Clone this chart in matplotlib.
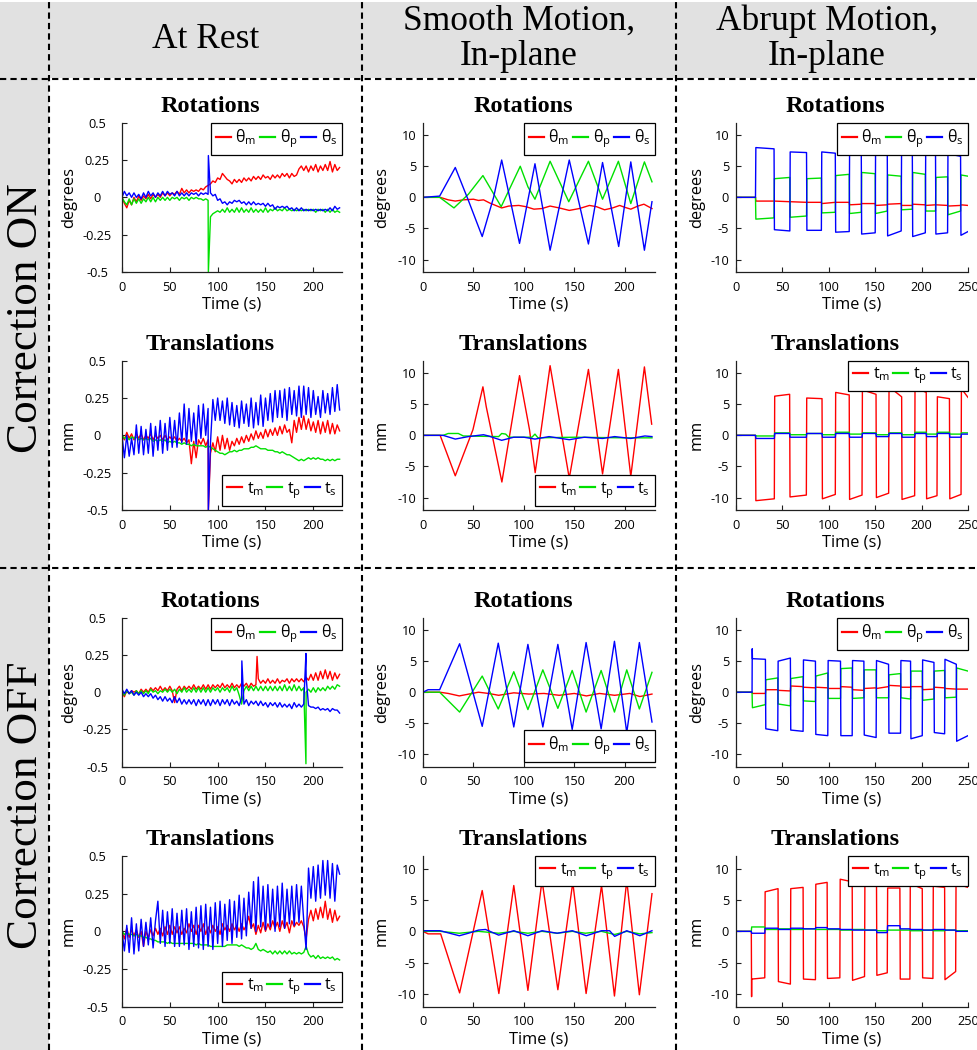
import numpy as np
import matplotlib
matplotlib.use('Agg')
import matplotlib.pyplot as plt
from matplotlib.lines import Line2D
from matplotlib.patches import Rectangle

plt.rcParams['font.family'] = ['Open Sans', 'DejaVu Sans']
plt.rcParams['mathtext.fontset'] = 'custom'
plt.rcParams['mathtext.rm'] = 'Open Sans'
plt.rcParams['axes.unicode_minus'] = False

RED, GREEN, BLUE = '#ff0000', '#00e000', '#0000ff'
SERIF = 'Liberation Serif'

# ---------------- data ----------------
col_titles = [['At Rest'], ['Smooth Motion,', 'In-plane'], ['Abrupt Motion,', 'In-plane']]
row_titles = ['Correction ON', 'Correction OFF']
rot_labels = [r'$\mathrm{θ_m}$', r'$\mathrm{θ_p}$', r'$\mathrm{θ_s}$']
tra_labels = [r'$\mathrm{t_m}$', r'$\mathrm{t_p}$', r'$\mathrm{t_s}$']

# at rest: samples every 2.5 s, 0 .. 227.5 s
t_rest = np.arange(0, 230, 2.5)

on_rot_m = [0.00, -0.04, -0.07, -0.02, -0.05, 0.00, -0.03, 0.01, -0.02, 0.01,
            -0.01, 0.02, -0.01, 0.02, 0.00, 0.02, 0.00, 0.03, 0.01, 0.03,
            0.01, 0.03, 0.02, 0.04, 0.02, 0.06, 0.03, 0.05, 0.03, 0.05,
            0.04, 0.05, 0.04, 0.06, 0.05, 0.07, 0.08, 0.09, 0.11, 0.10,
            0.13, 0.12, 0.16, 0.14, 0.12, 0.11, 0.09, 0.12, 0.10, 0.12,
            0.10, 0.13, 0.11, 0.13, 0.11, 0.14, 0.12, 0.14, 0.12, 0.15,
            0.13, 0.14, 0.12, 0.15, 0.13, 0.15, 0.13, 0.16, 0.14, 0.16,
            0.13, 0.16, 0.14, 0.15, 0.19, 0.21, 0.18, 0.21, 0.17, 0.21,
            0.18, 0.22, 0.17, 0.21, 0.18, 0.22, 0.18, 0.24, 0.17, 0.22,
            0.18, 0.20]
on_rot_p = [0.00, -0.03, -0.05, -0.01, -0.05, -0.01, -0.04, -0.01, -0.04, -0.01,
            -0.03, 0.00, -0.03, 0.00, -0.03, 0.00, -0.02, 0.00, -0.02, 0.00,
            -0.02, 0.00, -0.01, 0.00, -0.02, 0.00, -0.01, 0.00, -0.02, 0.00,
            -0.01, 0.00, -0.01, -0.01, -0.02, -0.01, -0.02, -0.13, -0.11, -0.10,
            -0.09, -0.10, -0.08, -0.10, -0.07, -0.10, -0.08, -0.10, -0.07, -0.10,
            -0.07, -0.10, -0.08, -0.10, -0.07, -0.10, -0.08, -0.10, -0.08, -0.10,
            -0.07, -0.10, -0.08, -0.09, -0.07, -0.09, -0.08, -0.09, -0.07, -0.09,
            -0.08, -0.09, -0.08, -0.09, -0.08, -0.09, -0.08, -0.09, -0.08, -0.09,
            -0.08, -0.10, -0.08, -0.09, -0.08, -0.10, -0.08, -0.10, -0.08, -0.10,
            -0.09, -0.10]
on_rot_s = [0.00, 0.04, 0.01, 0.03, 0.00, 0.03, 0.00, 0.02, -0.01, 0.03,
            0.00, 0.04, 0.01, 0.03, 0.00, 0.03, 0.01, 0.04, 0.01, 0.04,
            0.02, 0.03, 0.01, 0.04, 0.01, 0.03, 0.01, 0.03, 0.01, 0.03,
            0.02, 0.03, 0.01, 0.03, 0.02, 0.03, 0.02, 0.03, 0.01, 0.02,
            -0.02, -0.01, -0.04, -0.03, -0.05, -0.03, -0.04, -0.02, -0.03, -0.02,
            -0.04, -0.03, -0.05, -0.03, -0.05, -0.03, -0.05, -0.04, -0.05, -0.04,
            -0.06, -0.04, -0.06, -0.05, -0.08, -0.06, -0.07, -0.06, -0.07, -0.06,
            -0.08, -0.07, -0.09, -0.07, -0.09, -0.07, -0.09, -0.08, -0.09, -0.08,
            -0.09, -0.08, -0.09, -0.08, -0.09, -0.08, -0.09, -0.07, -0.09, -0.06,
            -0.08, -0.07]

on_tra_m = [0.00, -0.03, 0.02, -0.02, 0.01, -0.03, 0.01, -0.02, 0.01, -0.03,
            0.00, -0.02, 0.01, -0.03, 0.00, -0.02, 0.00, -0.03, 0.00, -0.03,
            -0.01, -0.03, -0.01, -0.04, -0.02, -0.04, -0.02, -0.05, -0.03, -0.19,
            -0.04, -0.15, -0.03, -0.06, -0.02, -0.07, -0.03, -0.12, -0.05, -0.11,
            -0.01, -0.10, 0.00, -0.09, -0.02, -0.10, -0.04, -0.07, -0.02, -0.06,
            -0.01, -0.05, 0.00, -0.04, 0.01, -0.03, 0.03, -0.02, 0.02, -0.02,
            0.04, -0.01, 0.04, 0.00, 0.05, 0.00, 0.06, 0.01, 0.07, 0.02,
            0.04, -0.05, 0.10, 0.02, 0.12, 0.04, 0.13, 0.04, 0.11, 0.03,
            0.09, 0.02, 0.10, 0.01, 0.09, 0.02, 0.10, 0.01, 0.08, 0.01,
            0.07, 0.03]
on_tra_p = [0.00, -0.02, -0.01, -0.03, -0.01, -0.02, -0.01, -0.03, -0.02, -0.03,
            -0.02, -0.03, -0.02, -0.04, -0.03, -0.04, -0.03, -0.04, -0.03, -0.05,
            -0.04, -0.05, -0.04, -0.05, -0.05, -0.06, -0.05, -0.06, -0.06, -0.07,
            -0.06, -0.07, -0.07, -0.07, -0.07, -0.08, -0.07, -0.08, -0.09, -0.10,
            -0.11, -0.12, -0.12, -0.13, -0.12, -0.11, -0.11, -0.10, -0.11, -0.10,
            -0.10, -0.09, -0.09, -0.09, -0.08, -0.08, -0.07, -0.08, -0.09, -0.09,
            -0.09, -0.10, -0.10, -0.10, -0.11, -0.11, -0.12, -0.11, -0.12, -0.13,
            -0.13, -0.14, -0.15, -0.16, -0.17, -0.16, -0.17, -0.16, -0.15, -0.16,
            -0.15, -0.16, -0.15, -0.16, -0.16, -0.17, -0.16, -0.17, -0.16, -0.17,
            -0.16, -0.16]
on_tra_s = [0.00, -0.15, 0.00, -0.14, -0.02, -0.13, 0.07, -0.12, 0.06, -0.13,
            0.04, -0.12, 0.08, -0.14, 0.06, -0.10, 0.10, -0.12, 0.08, -0.10,
            0.12, -0.08, 0.10, -0.08, 0.15, -0.05, 0.21, -0.06, 0.18, -0.04,
            0.15, -0.06, 0.20, -0.02, 0.21, 0.00, 0.18, -0.05, 0.24, 0.10,
            0.25, 0.10, 0.23, 0.08, 0.25, 0.07, 0.22, 0.06, 0.20, 0.05,
            0.23, 0.08, 0.21, 0.06, 0.25, 0.05, 0.22, 0.07, 0.27, 0.06,
            0.25, 0.10, 0.28, 0.09, 0.30, 0.12, 0.30, 0.12, 0.31, 0.10,
            0.32, 0.14, 0.30, 0.13, 0.33, 0.12, 0.33, 0.14, 0.32, 0.12,
            0.30, 0.14, 0.26, 0.12, 0.30, 0.15, 0.28, 0.14, 0.32, 0.16,
            0.34, 0.17]

off_rot_m = [0.00, -0.03, 0.01, -0.01, 0.01, 0.00, 0.01, -0.01, 0.02, 0.00,
             0.02, 0.00, 0.03, 0.01, 0.03, 0.01, 0.04, 0.01, 0.03, 0.01,
             0.04, 0.01, -0.07, 0.02, 0.04, 0.01, 0.04, 0.02, 0.04, 0.02,
             0.05, 0.02, 0.04, 0.02, 0.05, 0.02, 0.05, 0.02, 0.05, 0.03,
             0.05, 0.03, 0.06, 0.03, 0.05, 0.03, 0.06, 0.03, 0.05, 0.03,
             0.06, 0.04, 0.06, 0.03, 0.06, 0.04, 0.05, 0.09, 0.06, 0.08,
             0.06, 0.09, 0.06, 0.08, 0.06, 0.09, 0.06, 0.08, 0.07, 0.09,
             0.06, 0.09, 0.07, 0.09, 0.07, 0.09, 0.07, 0.10, 0.08, 0.12,
             0.08, 0.13, 0.08, 0.14, 0.09, 0.15, 0.09, 0.14, 0.08, 0.13,
             0.09, 0.12]
off_rot_p = [0.00, -0.02, 0.01, -0.01, 0.00, -0.02, 0.01, -0.01, 0.01, -0.01,
             0.01, -0.01, 0.02, 0.00, 0.01, -0.01, 0.01, 0.00, 0.02, 0.00,
             0.02, 0.00, 0.02, -0.01, 0.02, 0.00, 0.03, 0.00, 0.02, 0.00,
             0.03, 0.00, 0.03, 0.00, 0.03, 0.00, 0.03, 0.00, 0.03, 0.01,
             0.03, 0.00, 0.03, 0.01, 0.03, 0.00, 0.04, 0.01, 0.03, -0.02,
             -0.08, 0.01, 0.04, 0.01, 0.04, 0.01, 0.04, 0.01, 0.04, 0.01,
             0.04, 0.01, 0.04, 0.01, 0.04, 0.01, 0.04, 0.01, 0.05, 0.01,
             0.04, 0.01, 0.05, 0.01, 0.04, 0.01, 0.03, 0.00, 0.02, 0.00,
             0.03, 0.00, 0.03, 0.01, 0.03, 0.01, 0.04, 0.02, 0.04, 0.02,
             0.05, 0.04]
off_rot_s = [0.02, -0.01, 0.02, -0.01, 0.01, -0.02, 0.00, -0.02, 0.00, -0.03,
             -0.01, -0.03, -0.01, -0.04, -0.02, -0.05, -0.03, -0.06, -0.03, -0.06,
             -0.04, -0.07, -0.03, -0.07, -0.04, -0.08, -0.05, -0.08, -0.05, -0.08,
             -0.05, -0.09, -0.05, -0.08, -0.05, -0.09, -0.05, -0.09, -0.05, -0.08,
             -0.05, -0.09, -0.05, -0.08, -0.05, -0.09, -0.05, -0.08, -0.06, -0.09,
             -0.04, -0.08, -0.05, -0.09, -0.06, -0.08, -0.06, -0.09, -0.06, -0.09,
             -0.07, -0.10, -0.07, -0.09, -0.07, -0.10, -0.07, -0.10, -0.08, -0.10,
             -0.08, -0.11, -0.07, -0.10, -0.08, -0.10, -0.08, 0.10, -0.09, -0.10,
             -0.10, -0.11, -0.10, -0.12, -0.11, -0.12, -0.11, -0.13, -0.11, -0.12,
             -0.12, -0.14]

off_tra_m = [0.00, -0.05, 0.02, -0.04, 0.01, -0.03, 0.01, -0.04, 0.00, -0.10,
             0.00, -0.04, 0.01, -0.03, 0.02, -0.02, 0.02, -0.03, 0.03, -0.02,
             0.04, -0.02, 0.03, -0.01, 0.03, -0.02, 0.02, -0.01, 0.05, 0.00,
             0.04, -0.02, 0.04, 0.00, 0.05, -0.02, 0.03, -0.01, 0.04, 0.00,
             0.03, -0.02, 0.05, 0.01, 0.04, 0.00, 0.05, 0.01, 0.04, 0.00,
             0.05, 0.01, 0.04, 0.10, 0.02, 0.05, -0.02, 0.04, -0.01, 0.06,
             0.00, 0.05, 0.01, 0.07, 0.02, 0.06, 0.00, 0.07, 0.02, 0.06,
             -0.01, 0.07, 0.03, 0.06, 0.04, 0.07, 0.03, -0.05, 0.08, 0.14,
             0.07, 0.15, 0.08, 0.16, 0.09, 0.20, 0.08, 0.15, 0.06, 0.14,
             0.07, 0.10]
off_tra_p = [0.00, -0.02, -0.01, -0.02, -0.02, -0.03, -0.02, -0.03, -0.03, -0.04,
             -0.04, -0.05, -0.05, -0.06, -0.06, -0.07, -0.07, -0.07, -0.07, -0.08,
             -0.07, -0.08, -0.08, -0.08, -0.08, -0.08, -0.08, -0.08, -0.08, -0.08,
             -0.08, -0.09, -0.08, -0.09, -0.09, -0.09, -0.09, -0.10, -0.10, -0.10,
             -0.10, -0.10, -0.10, -0.10, -0.09, -0.09, -0.09, -0.09, -0.09, -0.10,
             -0.09, -0.10, -0.11, -0.11, -0.12, -0.11, -0.08, -0.12, -0.13, -0.12,
             -0.13, -0.14, -0.13, -0.15, -0.13, -0.15, -0.13, -0.15, -0.13, -0.15,
             -0.13, -0.15, -0.14, -0.15, -0.14, -0.15, -0.14, -0.10, -0.15, -0.17,
             -0.16, -0.18, -0.16, -0.18, -0.17, -0.18, -0.17, -0.18, -0.17, -0.19,
             -0.18, -0.19]
off_tra_s = [0.00, -0.13, 0.04, -0.14, 0.09, -0.15, 0.05, -0.13, 0.08, -0.10,
             0.06, -0.09, 0.09, -0.11, 0.07, 0.20, -0.08, 0.14, -0.10, 0.13,
             -0.08, 0.15, -0.10, 0.12, -0.10, 0.14, -0.09, 0.15, -0.12, 0.13,
             -0.10, 0.16, -0.11, 0.17, -0.12, 0.18, -0.10, 0.16, -0.12, 0.19,
             -0.08, 0.20, -0.10, 0.18, -0.06, 0.21, -0.08, 0.20, -0.04, 0.24,
             -0.05, 0.22, -0.03, 0.26, 0.02, 0.33, 0.00, 0.36, 0.03, 0.30,
             0.01, 0.31, 0.03, 0.28, 0.00, 0.30, 0.03, 0.32, 0.02, 0.28,
             0.05, 0.30, 0.04, 0.31, 0.06, 0.30, 0.07, -0.12, 0.42, 0.22,
             0.43, 0.20, 0.44, 0.22, 0.47, 0.24, 0.47, 0.22, 0.45, 0.20,
             0.44, 0.38]

# single-sample spikes (time s, value)
spikes = {
    'on_rot_p': [(90.3, -0.5)], 'on_rot_s': [(90.3, 0.28)],
    'on_tra_m': [(90.3, -0.5)], 'on_tra_s': [(90.3, -0.5)],
    'off_rot_m': [(141.2, 0.24)], 'off_rot_p': [(192.3, -0.48)],
    'off_rot_s': [(125.3, 0.21), (192.3, 0.26)],
    'ab_off_rot_s': [(17.5, 7.0)], 'ab_off_tra_m': [(16.8, -10.4)],
}

# smooth motion: turning points (time s, value)
sm_on_rot_m_t = [0, 17, 25, 32, 40, 50, 55, 60, 66, 78, 85, 95, 102, 110, 118, 126, 135, 145,
                 155, 165, 172, 180, 188, 195, 200, 206, 213, 219, 227]
sm_on_rot_m = [0, 0, -0.4, -0.6, -0.4, -0.3, -0.5, -0.4, -0.9, -1.7, -1.4, -1.3, -1.5, -1.9,
               -1.8, -1.4, -1.7, -2.1, -1.8, -1.3, -1.5, -2.0, -1.7, -1.3, -1.6, -1.9, -1.4, -1.1, -1.8]
sm_on_rot_p_t = [0, 16.5, 30.7, 45, 59.4, 77.5, 96.4, 104, 111, 126, 144.5, 164, 178, 193.7, 206, 219.5, 227]
sm_on_rot_p = [0, 0, -1.7, 0.5, 3.5, -1.5, 5.0, 1.7, -0.3, 5.8, -0.7, 5.8, -0.3, 5.8, -1.0, 5.7, 2.5]
sm_on_rot_s_t = [0, 16.5, 32, 45, 58.7, 70, 78, 95.7, 111, 126, 145, 164, 178, 194, 206, 219.5, 227]
sm_on_rot_s = [0, 0.2, 4.8, -0.5, -6.3, 0.0, 6.0, -7.4, 5.4, -8.5, 6.0, -7.5, 5.6, -7.9, 5.7, -8.5, -0.7]

sm_on_tra_m_t = [0, 17, 32, 49.5, 59.4, 62.7, 78.2, 95.7, 105.6, 111.2, 126, 145, 164, 178, 193.7,
                 206, 219.5, 226.7]
sm_on_tra_m = [0, 0, -6.5, 0.9, 7.8, 4.6, -7.5, 9.6, 0.9, -6.0, 11.2, -6.9, 10.6, -6.2, 10.6, -6.6, 11.0, 1.8]
sm_on_tra_p_t = [0, 20, 25, 35, 40, 75, 78, 82, 85, 108, 111, 114, 150, 200, 227]
sm_on_tra_p = [0, 0, 0.3, 0.3, -0.1, -0.2, 0.3, 0.2, -0.3, -0.3, 0.2, -0.4, -0.3, -0.4, -0.4]
sm_on_tra_s_t = [0, 20, 32, 45, 55, 60, 65, 78, 90, 100, 111, 125, 145, 160, 178, 190, 206, 220, 227]
sm_on_tra_s = [0, 0, -0.6, -0.2, 0.0, 0.1, -0.1, -0.8, -0.3, -0.3, -0.6, -0.2, -0.7, -0.3, -0.5,
               -0.2, -0.5, -0.1, -0.2]

sm_off_rot_m_t = [0, 16.5, 25, 36, 55, 65, 75, 90, 105, 120, 135, 150, 162, 175, 190, 205, 215, 227]
sm_off_rot_m = [0, 0, -0.2, -0.6, 0.0, -0.2, -0.5, -0.1, -0.3, -0.2, -0.5, -0.2, -0.6, -0.2, -0.5,
                -0.2, -0.7, -0.3]
sm_off_rot_p_t = [0, 16.5, 36.3, 58.7, 74.6, 90, 104, 118.8, 133.7, 147.9, 161.7, 176.6, 189.8, 202, 214.5, 227]
sm_off_rot_p = [0, 0, -3.2, 2.6, -2.7, 3.3, -2.8, 3.6, -2.6, 3.5, -3.2, 3.5, -3.2, 3.6, -2.7, 3.2]
sm_off_rot_s_t = [0, 5, 16.5, 36.3, 58.7, 74.6, 90, 104, 118.8, 133.7, 147.9, 161.7, 176.6, 189.8,
                  202, 214.5, 227]
sm_off_rot_s = [0, 0.4, 0.4, 7.8, -5.5, 7.9, -5.6, 7.7, -5.6, 7.7, -6.0, 8.0, -5.9, 8.2, -6.5, 8.0, -4.8]

sm_off_tra_m_t = [0, 5, 17.5, 36.3, 58.7, 75.2, 90, 104, 118, 133.7, 148.5, 161.7, 177, 189.8, 202, 214.5, 227]
sm_off_tra_m = [0, -0.4, -0.4, -9.8, 6.5, -9.9, 7.3, -9.4, 8.1, -9.3, 7.8, -9.9, 7.3, -10.3, 8.1, -10.1, 6.0]
sm_off_tra_p_t = [0, 17, 36, 55, 75, 90, 104, 118, 133, 148, 161, 177, 190, 202, 215, 227]
sm_off_tra_p = [0, 0, -0.3, 0, -0.3, 0, -0.3, 0, -0.3, 0, -0.3, 0, -0.5, 0, -0.4, -0.2]
sm_off_tra_s_t = [0, 17, 36, 45, 55, 62, 75, 90, 104, 118, 133, 148, 162, 177, 185, 190, 202, 215, 227]
sm_off_tra_s = [0.1, 0.1, -0.7, -0.3, 0.2, 0.3, -0.6, 0.1, -0.7, 0.1, -0.3, 0.1, -0.7, 0.1, 0.1,
                -0.8, 0.1, -0.7, 0.1]

# abrupt motion: switch times (s), level at start / end of each hold
ab_on_rot_sw = [0, 21, 41, 58, 76, 92, 107, 122, 135, 150, 163, 178, 190, 204, 215, 228, 242, 250]
ab_on_rot_s0 = [0, 8.0, -5.2, 7.3, -5.3, 7.3, -5.6, 7.5, -5.9, 7.5, -6.2, 7.3, -6.3, 7.2, -5.9, 7.0, -6.1]
ab_on_rot_s1 = [0, 7.8, -5.4, 7.2, -5.3, 7.1, -5.5, 7.4, -5.7, 7.3, -5.4, 7.2, -5.7, 7.1, -5.7, 6.6, -5.5]
ab_on_rot_p0 = [0, -3.5, 3.0, -3.2, 3.0, -2.5, 3.5, -2.6, 4.0, -2.6, 3.6, -2.0, 4.0, -2.2, 3.2, -2.8, 3.6]
ab_on_rot_p1 = [0, -3.3, 3.2, -3.0, 3.1, -2.4, 3.7, -2.4, 3.8, -2.2, 3.4, -1.9, 3.7, -2.2, 3.3, -2.2, 3.4]
ab_on_rot_m0 = [0, -0.6, -0.6, -0.7, -0.8, -1.0, -0.8, -1.2, -1.0, -1.3, -1.1, -1.3, -1.1, -1.3, -1.2, -1.4, -1.2]
ab_on_rot_m1 = [0, -0.6, -0.7, -0.8, -0.8, -0.8, -0.8, -1.1, -1.0, -1.2, -1.0, -1.3, -1.2, -1.2, -1.3, -1.3, -1.3]

ab_on_tra_sw = [0, 21, 41.3, 57.8, 75.8, 92.7, 107, 122, 135.8, 150.9, 164.5, 178.5, 192.5, 205,
                216.6, 230, 242.5, 250]
ab_on_tra_m0 = [0, -10.5, 6.3, -9.9, 6.0, -10.2, 6.9, -10.3, 7.3, -10.0, 7.8, -10.3, 7.7, -10.2, 6.2, -10.2, 7.5]
ab_on_tra_m1 = [0, -10.2, 6.6, -9.6, 5.9, -9.5, 6.5, -9.6, 6.6, -9.3, 6.2, -9.7, 6.9, -9.7, 5.9, -9.5, 6.1]
ab_on_tra_p0 = [0, -0.1, 0.4, 0.1, 0.3, 0.1, 0.5, 0.2, 0.4, 0.1, 0.4, 0.1, 0.5, 0.2, 0.5, 0.2, 0.4]
ab_on_tra_s0 = [0, -0.5, 0.3, -0.3, 0.3, -0.3, 0.3, -0.3, 0.3, -0.2, 0.3, -0.3, 0.3, -0.2, 0.3, -0.3, 0.2]

ab_off_rot_sw = [0, 17.3, 31.7, 45, 58.6, 72.3, 85.6, 98.9, 112.6, 125.2, 137.8, 151, 164.4, 177.3,
                 188.1, 200.7, 213.3, 224.8, 237.4, 250]
ab_off_rot_s0 = [0, 5.4, -5.9, 5.0, -6.1, 5.2, -6.8, 5.1, -7.0, 5.1, -6.9, 5.1, -6.6, 5.1, -7.5, 5.2, -6.5, 5.3, -7.9]
ab_off_rot_s1 = [0, 5.3, -6.2, 5.5, -6.3, 5.0, -7.0, 5.0, -7.0, 5.0, -7.3, 4.5, -6.6, 5.0, -7.0, 4.8, -6.7, 4.5, -7.0]
ab_off_rot_p0 = [0, -2.5, 2.0, -1.9, 2.2, -1.4, 2.6, -1.0, 3.8, -1.0, 3.6, -0.9, 2.8, -0.9, 3.4, -1.3, 3.4, -0.9, 3.9]
ab_off_rot_p1 = [0, -2.0, 2.3, -2.2, 2.5, -1.5, 3.1, -1.0, 3.9, -0.9, 3.6, -0.9, 3.0, -1.1, 3.4, -1.1, 3.5, -0.8, 3.4]
ab_off_rot_m0 = [0, -0.2, 0.4, 0.3, 1.0, 0.8, 0.8, 0.6, 0.9, 0.4, 0.6, 0.6, 1.1, 0.8, 0.9, 0.4, 0.8, 0.6, 0.5]
ab_off_rot_m1 = [0, -0.2, 0.4, 0.2, 0.9, 0.7, 0.7, 0.6, 0.8, 0.3, 0.7, 0.9, 1.0, 0.8, 0.9, 0.5, 0.7, 0.5, 0.5]

ab_off_tra_sw = [0, 16.5, 31, 45.3, 58.6, 72.3, 85.6, 98.2, 111.9, 125.2, 138.5, 151.4, 163, 176.6,
                 187.4, 200.7, 212.2, 224.8, 236.7, 250]
ab_off_tra_m0 = [0, -7.6, 6.3, -8.0, 6.8, -7.6, 7.5, -7.5, 8.3, -7.8, 8.0, -7.0, 6.9, -7.6, 7.6, -7.4, 7.2, -7.7, 7.6]
ab_off_tra_m1 = [0, -7.4, 6.8, -8.4, 7.0, -7.7, 7.8, -7.4, 7.9, -7.2, 7.9, -6.6, 6.9, -7.6, 6.8, -7.5, 7.0, -6.4, 7.0]
ab_off_tra_p0 = [0, 0.7, 0.3, 0.4, 0.3, 0.4, 0.3, 0.3, 0.2, 0.3, 0.2, 0.1, 0.2, 0.2, 0.1, 0.2, 0.1, 0.2, 0.1]
ab_off_tra_s0 = [0, -0.3, 0.5, 0.3, 0.5, 0.4, 0.6, 0.4, 0.3, 0.2, 0.2, -0.2, 0.9, 0.4, 0.3, 0.2, 0.3, 0.2, 0.0]


def add_spikes(t, y, key):
    t, y = list(t), list(y)
    for ts, v in spikes.get(key, []):
        k = int(np.searchsorted(t, ts))
        t.insert(k, ts)
        y.insert(k, v)
    return t, y


def steps(sw, start, end=None, key=None):
    end = start if end is None else end
    t, y = [], []
    for k in range(len(start)):
        t += [sw[k] + (0.4 if k else 0.0), sw[k + 1]]
        y += [start[k], end[k]]
    return add_spikes(t, y, key)


rest = [
    [add_spikes(t_rest, on_rot_m, 'on_rot_m'), add_spikes(t_rest, on_rot_p, 'on_rot_p'),
     add_spikes(t_rest, on_rot_s, 'on_rot_s')],
    [add_spikes(t_rest, on_tra_m, 'on_tra_m'), add_spikes(t_rest, on_tra_p, 'on_tra_p'),
     add_spikes(t_rest, on_tra_s, 'on_tra_s')],
    [add_spikes(t_rest, off_rot_m, 'off_rot_m'), add_spikes(t_rest, off_rot_p, 'off_rot_p'),
     add_spikes(t_rest, off_rot_s, 'off_rot_s')],
    [add_spikes(t_rest, off_tra_m, 'off_tra_m'), add_spikes(t_rest, off_tra_p, 'off_tra_p'),
     add_spikes(t_rest, off_tra_s, 'off_tra_s')],
]
smooth = [
    [(sm_on_rot_m_t, sm_on_rot_m), (sm_on_rot_p_t, sm_on_rot_p), (sm_on_rot_s_t, sm_on_rot_s)],
    [(sm_on_tra_m_t, sm_on_tra_m), (sm_on_tra_p_t, sm_on_tra_p), (sm_on_tra_s_t, sm_on_tra_s)],
    [(sm_off_rot_m_t, sm_off_rot_m), (sm_off_rot_p_t, sm_off_rot_p), (sm_off_rot_s_t, sm_off_rot_s)],
    [(sm_off_tra_m_t, sm_off_tra_m), (sm_off_tra_p_t, sm_off_tra_p), (sm_off_tra_s_t, sm_off_tra_s)],
]
abrupt = [
    [steps(ab_on_rot_sw, ab_on_rot_m0, ab_on_rot_m1), steps(ab_on_rot_sw, ab_on_rot_p0, ab_on_rot_p1),
     steps(ab_on_rot_sw, ab_on_rot_s0, ab_on_rot_s1)],
    [steps(ab_on_tra_sw, ab_on_tra_m0, ab_on_tra_m1), steps(ab_on_tra_sw, ab_on_tra_p0),
     steps(ab_on_tra_sw, ab_on_tra_s0)],
    [steps(ab_off_rot_sw, ab_off_rot_m0, ab_off_rot_m1), steps(ab_off_rot_sw, ab_off_rot_p0, ab_off_rot_p1),
     steps(ab_off_rot_sw, ab_off_rot_s0, ab_off_rot_s1, key='ab_off_rot_s')],
    [steps(ab_off_tra_sw, ab_off_tra_m0, ab_off_tra_m1, key='ab_off_tra_m'), steps(ab_off_tra_sw, ab_off_tra_p0),
     steps(ab_off_tra_sw, ab_off_tra_s0)],
]
panels = [rest, smooth, abrupt]

legend_low = {(1, 0), (3, 0), (1, 1), (2, 1)}

# ---------------- layout (pixels) ----------------
W, H = 978, 1050
fig = plt.figure(figsize=(W / 100, H / 100), dpi=100)


def fx(px):
    return px / W


def fy(py):
    return 1 - py / H


GRAY = '#e1e1e1'
fig.add_artist(Rectangle((0, fy(78)), 1, fy(2) - fy(78), transform=fig.transFigure,
                         facecolor=GRAY, edgecolor='none', zorder=0))
fig.add_artist(Rectangle((0, 0), fx(49), fy(2), transform=fig.transFigure,
                         facecolor=GRAY, edgecolor='none', zorder=0))
for xv in [49, 362, 676]:
    fig.add_artist(Line2D([fx(xv)] * 2, [0, 1], transform=fig.transFigure, color='k',
                          lw=1.5, dashes=(3, 2), zorder=5))
for yv in [79, 568]:
    fig.add_artist(Line2D([0, 1], [fy(yv)] * 2, transform=fig.transFigure, color='k',
                          lw=1.5, dashes=(3, 2), zorder=5))

cell_cx = [205.5, 519, 827]
for c, lines in enumerate(col_titles):
    if len(lines) == 1:
        fig.text(fx(cell_cx[c]), fy(48.5), lines[0], family=SERIF, size=25.5, ha='center', va='baseline')
    else:
        fig.text(fx(cell_cx[c]), fy(29.5), lines[0], family=SERIF, size=25.5, ha='center', va='baseline')
        fig.text(fx(cell_cx[c]), fy(65), lines[1], family=SERIF, size=25.5, ha='center', va='baseline')
for r, (txt, cy) in enumerate(zip(row_titles, [318, 805])):
    fig.text(fx(37), fy(cy), txt, family=SERIF, size=32.5, rotation=90,
             rotation_mode='anchor', ha='center', va='baseline')

col_left = [122, 423, 736]
col_right = [342, 655, 968]
row_top = [122.7, 360.7, 617.7, 856]
row_bot = [272, 510, 766.7, 1006.7]
title_x = [210, 523, 835]
ylab_x = [77, 390, 705]
xmax = [230, 230, 250]

for c in range(3):
    for r in range(4):
        x0, x1 = col_left[c], col_right[c]
        y0, y1 = row_top[r], row_bot[r]
        ax = fig.add_axes([fx(x0), fy(y1), fx(x1) - fx(x0), fy(y0) - fy(y1)])
        rot = r in (0, 2)
        for (tt, yy), col in zip(panels[c][r], [RED, GREEN, BLUE]):
            ax.plot(tt, yy, color=col, lw=1.0)
        ax.set_xlim(0, xmax[c])
        ax.set_xticks(np.arange(0, xmax[c] + 1, 50))
        if c == 0:
            ax.set_ylim(-0.5, 0.5)
            ax.set_yticks([-0.5, -0.25, 0, 0.25, 0.5])
            ax.set_yticklabels(['-0.5', '-0.25', '0', '0.25', '0.5'])
            for lab in ax.get_yticklabels():
                lab.set_horizontalalignment('center')
            ypad = 17.8
        else:
            ax.set_ylim(-12, 12)
            ax.set_yticks([-10, -5, 0, 5, 10])
            ypad = 5.0
        for s in ['top', 'right']:
            ax.spines[s].set_visible(False)
        for s in ['left', 'bottom']:
            ax.spines[s].set_linewidth(0.9)
            ax.spines[s].set_color('#202020')
        ax.tick_params(direction='in', length=3.5, width=0.8, labelsize=9.2, color='#202020')
        ax.tick_params(axis='y', pad=ypad)
        ax.tick_params(axis='x', pad=6.3)
        ax.set_xlabel('Time (s)', fontsize=11.8)
        ax.xaxis.set_label_coords(0.5, -0.165)
        ax.set_ylabel('degrees' if rot else 'mm', fontsize=11.8)
        ax.yaxis.set_label_coords((ylab_x[c] - x0) / (x1 - x0), 0.5)
        fig.text(fx(title_x[c]), fy(y0 - 10.7), 'Rotations' if rot else 'Translations',
                 family=SERIF, weight='bold', size=17.5, ha='center', va='baseline')
        labels = rot_labels if rot else tra_labels
        if (r, c) in legend_low:
            loc, anchor = 'lower right', (1, 0.03)
        else:
            loc, anchor = 'upper right', (1, 1)
        leg = ax.legend(ax.lines, labels, loc=loc, bbox_to_anchor=anchor, borderaxespad=0,
                        ncol=3, fontsize=11.5, handlelength=0.95, handletextpad=0.3,
                        columnspacing=0.2, borderpad=0.3, fancybox=False,
                        edgecolor='k', framealpha=1)
        for h in leg.legend_handles:
            h.set_linewidth(1.6)
        leg.get_frame().set_linewidth(0.9)

fig.savefig('out.png', dpi=100)
